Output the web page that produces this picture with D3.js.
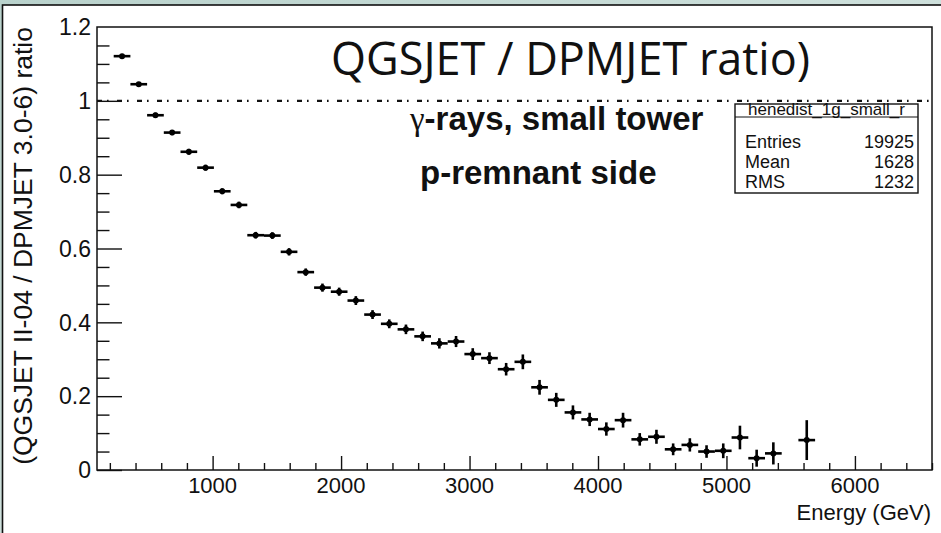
<!DOCTYPE html>
<html>
<head>
<meta charset="utf-8">
<script src="https://cdn.jsdelivr.net/npm/d3@7"></script>
<style>
  html, body { margin: 0; padding: 0; background: #c9ddd8; }
  svg { display: block; }
</style>
</head>
<body>
<svg id="chart" width="941" height="533"></svg>
<script>
// Energy bin centres (GeV), 130 GeV wide bins
const energy = [295, 425, 555, 685, 815, 945, 1075, 1205, 1335, 1465,
  1595, 1725, 1855, 1985, 2115, 2245, 2375, 2505, 2635, 2765,
  2895, 3025, 3155, 3285, 3415, 3545, 3675, 3805, 3935, 4065,
  4195, 4325, 4455, 4585, 4715, 4845, 4975, 5105, 5235, 5365, 5625];
const binHalfWidth = 65;

// QGSJET II-04 / DPMJET 3.0-6 ratio per bin
const ratio = [1.121, 1.045, 0.961, 0.914, 0.862, 0.819, 0.755, 0.718, 0.636, 0.635,
  0.591, 0.536, 0.494, 0.483, 0.459, 0.421, 0.396, 0.381, 0.362, 0.343,
  0.348, 0.314, 0.303, 0.273, 0.293, 0.224, 0.190, 0.156, 0.137, 0.111,
  0.135, 0.083, 0.090, 0.056, 0.068, 0.050, 0.052, 0.088, 0.032, 0.045, 0.081];

// statistical uncertainty on the ratio
const ratioErr = [0.006, 0.006, 0.007, 0.007, 0.008, 0.008, 0.008, 0.009, 0.009, 0.009,
  0.010, 0.010, 0.011, 0.011, 0.012, 0.012, 0.012, 0.013, 0.013, 0.014,
  0.015, 0.016, 0.016, 0.017, 0.020, 0.020, 0.019, 0.019, 0.018, 0.018,
  0.020, 0.017, 0.019, 0.016, 0.018, 0.017, 0.020, 0.032, 0.023, 0.030, 0.054];

const xMajorTicks = [1000, 2000, 3000, 4000, 5000, 6000];
const yMajorTicks = [0, 0.2, 0.4, 0.6, 0.8, 1, 1.2];
const yTickLabels = ["0", "0.2", "0.4", "0.6", "0.8", "1", "1.2"];

const statsTitle = "henedist_1g_small_r";
const statsNames = ["Entries", "Mean", "RMS"];
const statsValues = ["19925", "1628", "1232"];

const plotTitle = "QGSJET / DPMJET ratio)";
const noteLines = ["-rays, small tower", "p-remnant side"];
const xTitle = "Energy (GeV)";
const yTitle = "(QGSJET II-04 / DPMJET 3.0-6) ratio";

const svg = d3.select("#chart");
const W = 941, H = 533;
const frame = { left: 97, right: 932, top: 27, bottom: 470 };

// background slide and white canvas
const defs = svg.append("defs");
const grad = defs.append("linearGradient").attr("id", "bg")
  .attr("x1", 0).attr("y1", 0).attr("x2", 1).attr("y2", 1);
grad.append("stop").attr("offset", 0).attr("stop-color", "#b9d2cc");
grad.append("stop").attr("offset", 1).attr("stop-color", "#e3eeeb");
svg.append("rect").attr("width", W).attr("height", H).attr("fill", "url(#bg)");
svg.append("rect").attr("x", 2.5).attr("y", 5).attr("width", W + 10).attr("height", H + 10)
  .attr("fill", "#fff").attr("stroke", "#111").attr("stroke-width", 1.6);

const x = d3.scaleLinear().domain([100, 6600]).range([frame.left, frame.right]);
const y = d3.scaleLinear().domain([0, 1.2]).range([frame.bottom, frame.top]);

const font = "'Liberation Sans', Arial, Helvetica, sans-serif";

// x axis: major ticks every 1000, minor every 200, drawn upward into the frame
const xAxis = d3.axisBottom(x)
  .tickValues(d3.range(200, 6601, 200))
  .tickSizeInner(0).tickSizeOuter(0).tickFormat("");
const gx = svg.append("g").attr("transform", `translate(0,${frame.bottom})`).call(xAxis);
gx.select(".domain").remove();
gx.selectAll(".tick line")
  .attr("y2", d => (d % 1000 === 0 ? -14 : -7))
  .attr("stroke", "#111").attr("stroke-width", 1.4);
svg.append("g").selectAll("text").data(xMajorTicks).join("text")
  .attr("x", d => x(d)).attr("y", 493)
  .attr("text-anchor", "middle")
  .attr("font-family", font).attr("font-size", 22).attr("fill", "#111")
  .text(d => d);

// y axis: major ticks every 0.2, minor every 0.05, drawn rightward into the frame
const yAxis = d3.axisLeft(y)
  .tickValues(d3.range(0, 24).map(i => i * 0.05))
  .tickSizeInner(0).tickSizeOuter(0).tickFormat("");
const gy = svg.append("g").attr("transform", `translate(${frame.left},0)`).call(yAxis);
gy.select(".domain").remove();
gy.selectAll(".tick line")
  .attr("x2", (d, i) => (i % 4 === 0 ? 25 : 12.5))
  .attr("stroke", "#111").attr("stroke-width", 1.4);
svg.append("g").selectAll("text").data(yMajorTicks).join("text")
  .attr("x", 91).attr("y", d => y(d))
  .attr("dy", "0.36em")
  .attr("text-anchor", "end")
  .attr("font-family", font).attr("font-size", 23).attr("fill", "#111")
  .text((d, i) => yTickLabels[i]);

// frame
svg.append("rect")
  .attr("x", frame.left).attr("y", frame.top)
  .attr("width", frame.right - frame.left).attr("height", frame.bottom - frame.top)
  .attr("fill", "none").attr("stroke", "#111").attr("stroke-width", 1.5);

// reference line at ratio = 1
svg.append("line")
  .attr("x1", frame.left).attr("x2", frame.right)
  .attr("y1", y(1)).attr("y2", y(1))
  .attr("stroke", "#111").attr("stroke-width", 2.2)
  .attr("stroke-dasharray", "5,5,1.6,8.4");

// data points with error bars
const pts = d3.range(energy.length).map(i => ({ e: energy[i], r: ratio[i], err: ratioErr[i] }));
const gp = svg.append("g").attr("stroke", "#000").attr("stroke-width", 2.6);
gp.selectAll("line.h").data(pts).join("line").attr("class", "h")
  .attr("x1", d => x(d.e - binHalfWidth)).attr("x2", d => x(d.e + binHalfWidth))
  .attr("y1", d => y(d.r)).attr("y2", d => y(d.r));
gp.selectAll("line.v").data(pts).join("line").attr("class", "v")
  .attr("x1", d => x(d.e)).attr("x2", d => x(d.e))
  .attr("y1", d => y(d.r - d.err)).attr("y2", d => y(d.r + d.err));
svg.append("g").selectAll("circle").data(pts).join("circle")
  .attr("cx", d => x(d.e)).attr("cy", d => y(d.r)).attr("r", 3).attr("fill", "#000");

// axis titles
svg.append("text")
  .attr("x", 931).attr("y", 520)
  .attr("text-anchor", "end")
  .attr("font-family", font).attr("font-size", 22).attr("fill", "#111")
  .text(xTitle);
svg.append("text")
  .attr("transform", `translate(32,${frame.top}) rotate(-90)`)
  .attr("text-anchor", "end")
  .attr("font-family", font).attr("font-size", 26.5).attr("fill", "#111")
  .text(yTitle);

// headline
svg.append("text")
  .attr("x", 331).attr("y", 75)
  .attr("font-family", "'Open Sans', Lato, sans-serif").attr("font-size", 45).attr("fill", "#111")
  .text(plotTitle);

// annotation
const note1 = svg.append("text")
  .attr("x", 410).attr("y", 130)
  .attr("font-family", font).attr("font-weight", "bold").attr("font-size", 33).attr("fill", "#111");
note1.append("tspan").attr("font-family", "'Liberation Serif', 'DejaVu Serif', serif")
  .attr("font-weight", "normal").text("γ");
note1.append("tspan").text(noteLines[0]);
svg.append("text")
  .attr("x", 420).attr("y", 184)
  .attr("font-family", font).attr("font-weight", "bold").attr("font-size", 33).attr("fill", "#111")
  .text(noteLines[1]);

// statistics box
const box = { x0: 735, x1: 918, y0: 104, y1: 193, sep: 117 };
const gs = svg.append("g");
gs.append("rect").attr("x", box.x0).attr("y", box.y0)
  .attr("width", box.x1 - box.x0).attr("height", box.y1 - box.y0)
  .attr("fill", "#fff").attr("stroke", "#111").attr("stroke-width", 1.4);
gs.append("line").attr("x1", box.x0).attr("x2", box.x1)
  .attr("y1", box.sep).attr("y2", box.sep)
  .attr("stroke", "#111").attr("stroke-width", 1.2);
gs.append("text").attr("x", (box.x0 + box.x1) / 2).attr("y", 115)
  .attr("text-anchor", "middle")
  .attr("font-family", font).attr("font-size", 17).attr("fill", "#111")
  .text(statsTitle);
const rowY = [148, 168, 188];
gs.selectAll("text.name").data(statsNames).join("text").attr("class", "name")
  .attr("x", 745).attr("y", (d, i) => rowY[i])
  .attr("font-family", font).attr("font-size", 18).attr("fill", "#111")
  .text(d => d);
gs.selectAll("text.val").data(statsValues).join("text").attr("class", "val")
  .attr("x", 914).attr("y", (d, i) => rowY[i])
  .attr("text-anchor", "end")
  .attr("font-family", font).attr("font-size", 18).attr("fill", "#111")
  .text(d => d);
</script>
</body>
</html>
